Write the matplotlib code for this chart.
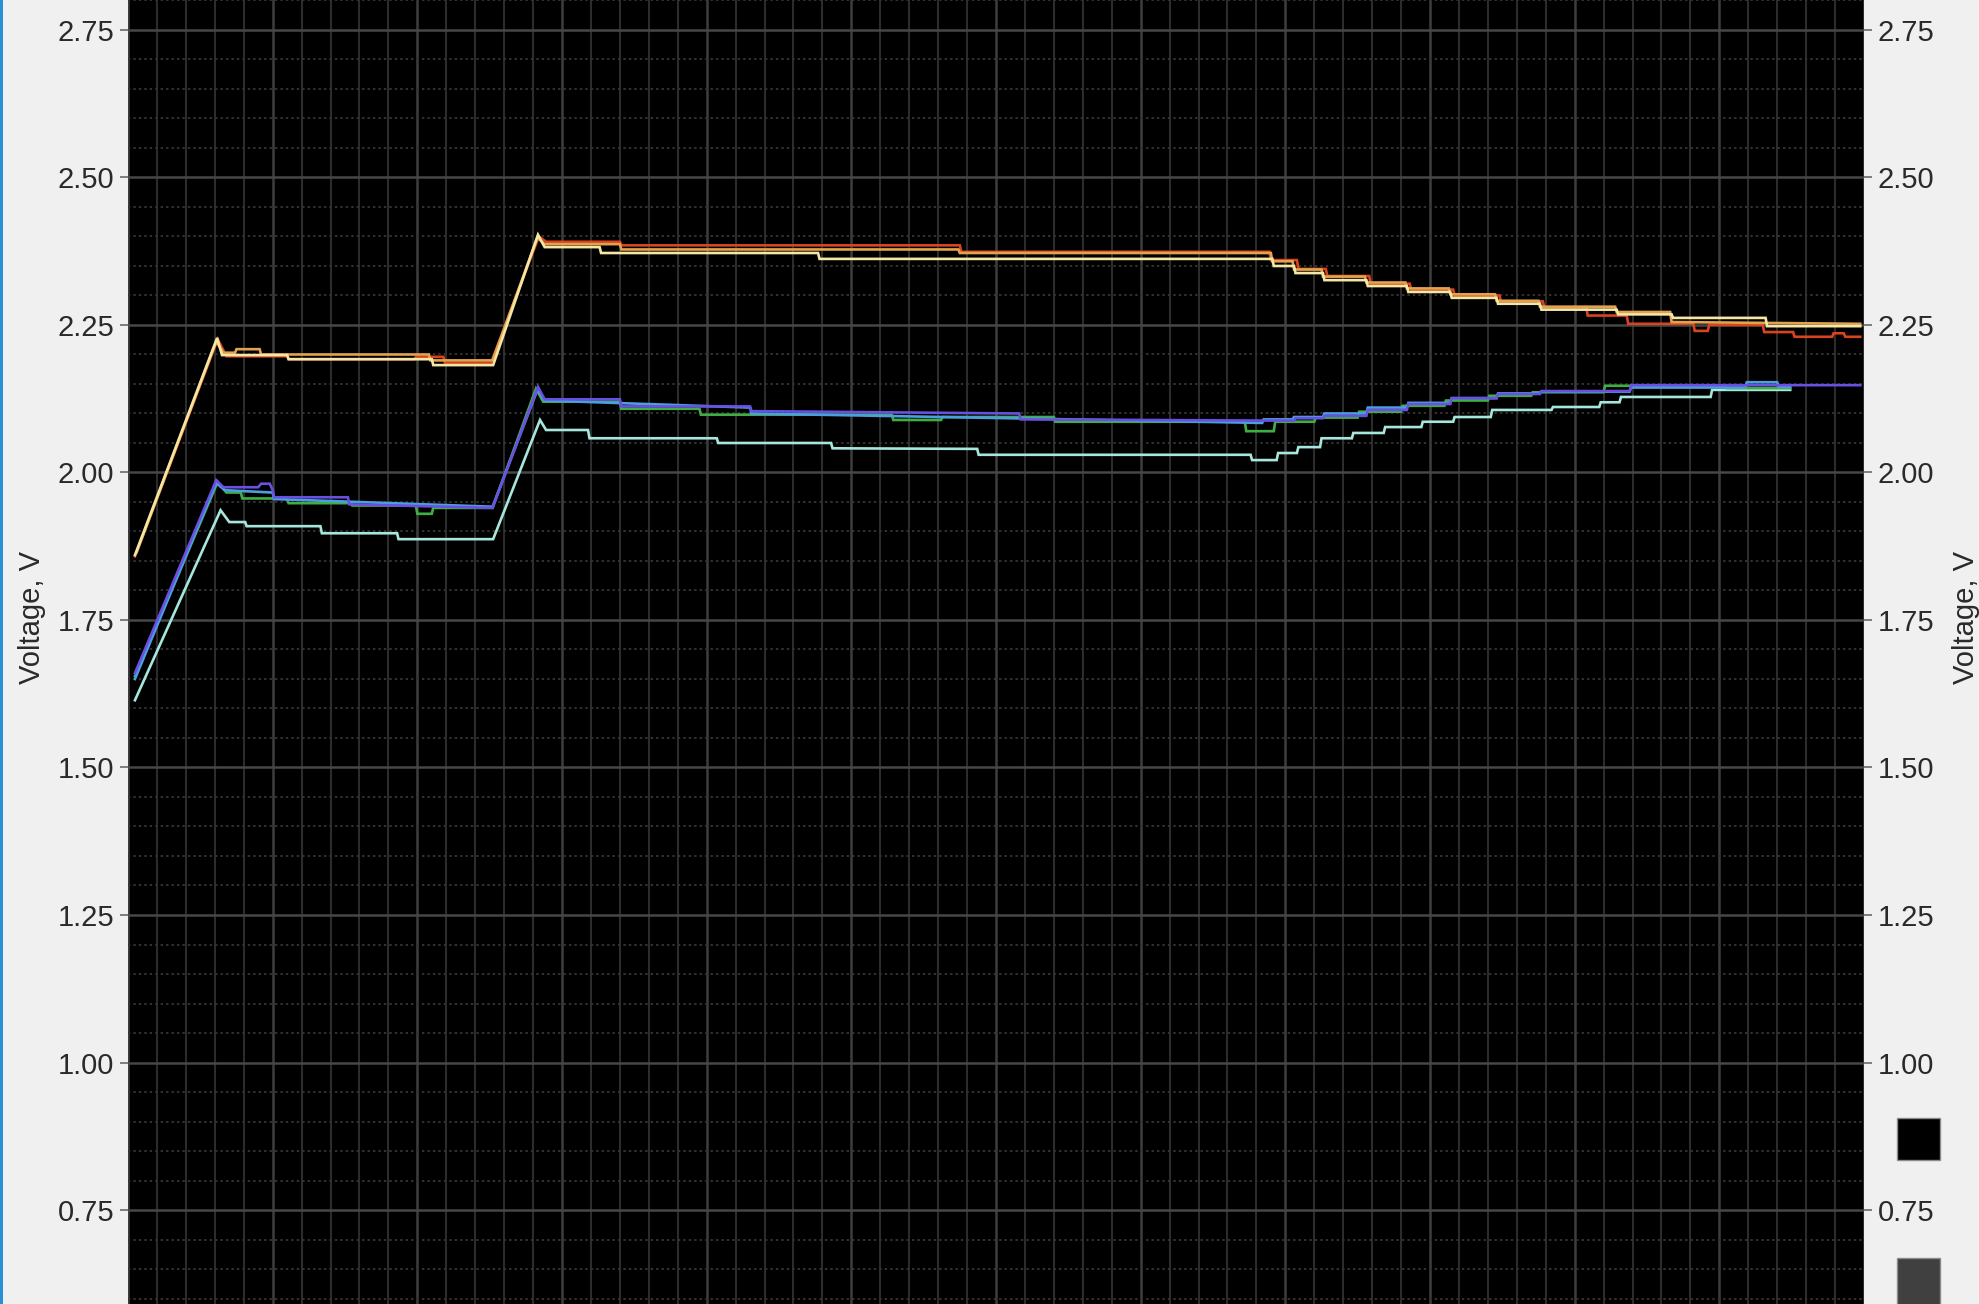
import numpy as np
import matplotlib
matplotlib.use("Agg")
import matplotlib.pyplot as plt
from matplotlib.patches import Rectangle

# ---- cell voltage traces (time in minutes, voltage in V) ----
yellow_t = [0.24, 3.08, 3.25, 5.50, 5.55, 10.50, 10.55, 12.62, 14.17, 14.40, 16.30, 16.35,
            23.85, 23.90, 39.55, 39.60, 40.30, 40.35, 41.30, 41.35, 42.80, 42.85, 44.20,
            44.25, 45.70, 45.75, 47.30, 47.35, 48.80, 48.85, 51.45, 51.50, 53.35, 53.40,
            56.60, 56.65, 59.87]
yellow_v = [1.860, 2.228, 2.199, 2.199, 2.192, 2.192, 2.182, 2.182, 2.403, 2.382, 2.382, 2.372,
            2.372, 2.362, 2.362, 2.350, 2.350, 2.338, 2.338, 2.326, 2.326, 2.316, 2.316,
            2.306, 2.306, 2.296, 2.296, 2.286, 2.286, 2.276, 2.276, 2.268, 2.268, 2.262,
            2.262, 2.248, 2.248]

orange_t = [0.30, 3.05, 3.30, 3.70, 3.75, 4.55, 4.60, 10.40, 10.45, 12.60, 14.15, 14.40,
            17.00, 17.05, 28.70, 28.75, 39.50, 39.55, 40.25, 40.30, 41.25, 41.30, 42.75,
            42.80, 44.15, 44.20, 45.65, 45.70, 47.25, 47.30, 48.75, 48.80, 51.40, 51.45,
            53.30, 53.35, 59.87]
orange_v = [1.865, 2.222, 2.203, 2.203, 2.209, 2.209, 2.200, 2.200, 2.190, 2.190, 2.398, 2.387,
            2.387, 2.378, 2.378, 2.372, 2.372, 2.358, 2.358, 2.344, 2.344, 2.332, 2.332,
            2.322, 2.322, 2.312, 2.312, 2.302, 2.302, 2.291, 2.291, 2.281, 2.281, 2.272,
            2.272, 2.255, 2.252]

red_t = [0.24, 3.10, 3.40, 5.50, 5.55, 9.90, 9.95, 10.90, 10.95, 12.55, 14.20, 14.45, 17.00,
         17.05, 28.75, 28.80, 39.45, 39.50, 40.40, 40.45, 41.40, 41.45, 42.90, 42.95, 44.30,
         44.35, 45.80, 45.85, 47.40, 47.45, 48.90, 48.95, 50.40, 50.45, 51.80, 51.85, 54.10,
         54.15, 54.60, 54.65, 56.50, 56.55, 57.55, 57.60, 58.90, 58.95, 59.30, 59.35, 59.87]
red_v = [1.858, 2.226, 2.197, 2.197, 2.192, 2.192, 2.196, 2.196, 2.186, 2.186, 2.400, 2.391, 2.391,
         2.385, 2.385, 2.374, 2.374, 2.360, 2.360, 2.345, 2.345, 2.333, 2.333, 2.320, 2.320,
         2.310, 2.310, 2.300, 2.300, 2.290, 2.290, 2.280, 2.280, 2.266, 2.266, 2.252, 2.252,
         2.240, 2.240, 2.250, 2.250, 2.238, 2.238, 2.230, 2.230, 2.236, 2.236, 2.230, 2.230]

purple_t = [0.24, 3.05, 3.30, 4.50, 4.60, 4.90, 5.00, 5.05, 7.60, 7.65, 12.60, 14.17, 14.40,
            17.00, 17.05, 21.50, 21.55, 30.80, 30.85, 39.20, 40.30, 40.35, 41.30, 41.35, 42.80,
            42.85, 44.20, 44.25, 45.70, 45.75, 47.30, 47.35, 48.80, 48.85, 51.90, 51.95, 59.87]
purple_v = [1.660, 1.987, 1.975, 1.975, 1.981, 1.981, 1.970, 1.958, 1.958, 1.946, 1.940, 2.145,
            2.124, 2.124, 2.112, 2.112, 2.104, 2.100, 2.090, 2.088, 2.088, 2.092, 2.092, 2.096,
            2.096, 2.106, 2.106, 2.116, 2.116, 2.126, 2.126, 2.133, 2.133, 2.138, 2.138, 2.148,
            2.148]

green_t = [0.24, 3.10, 3.40, 3.90, 3.95, 5.50, 5.55, 7.70, 7.75, 9.95, 10.00, 10.50, 10.55,
           12.60, 14.10, 14.35, 17.00, 17.05, 19.75, 19.80, 26.40, 26.45, 28.10, 28.15, 32.00,
           32.05, 38.60, 38.65, 39.60, 39.65, 41.00, 41.05, 42.50, 42.55, 44.00, 44.05, 45.50,
           45.55, 47.00, 47.05, 48.50, 48.55, 51.00, 51.05, 55.20, 55.25, 57.45]
green_v = [1.655, 1.984, 1.966, 1.966, 1.956, 1.956, 1.948, 1.948, 1.944, 1.944, 1.930, 1.930,
           1.940, 1.940, 2.142, 2.120, 2.120, 2.108, 2.108, 2.098, 2.098, 2.089, 2.089, 2.094,
           2.094, 2.086, 2.086, 2.070, 2.070, 2.086, 2.086, 2.093, 2.093, 2.103, 2.103, 2.113,
           2.113, 2.122, 2.122, 2.130, 2.130, 2.136, 2.136, 2.147, 2.147, 2.143, 2.143]

blue_t = [0.24, 3.05, 3.35, 5.00, 5.05, 12.60, 14.15, 14.40, 21.50, 21.55, 39.20, 39.25, 40.25,
          40.30, 41.30, 41.35, 42.80, 42.85, 44.20, 44.25, 45.70, 45.75, 47.30, 47.35, 48.80,
          48.85, 51.90, 51.95, 55.90, 55.95, 57.00, 57.05, 57.45]
blue_v = [1.650, 1.982, 1.970, 1.966, 1.955, 1.942, 2.140, 2.122, 2.110, 2.100, 2.084, 2.090,
          2.090, 2.094, 2.094, 2.100, 2.100, 2.110, 2.110, 2.118, 2.118, 2.126, 2.126, 2.134,
          2.134, 2.137, 2.137, 2.144, 2.144, 2.153, 2.153, 2.145, 2.145]

cyan_t = [0.24, 3.20, 3.50, 4.05, 4.10, 6.65, 6.70, 9.30, 9.35, 12.62, 14.24, 14.45, 15.90,
          15.95, 20.35, 20.40, 24.30, 24.35, 29.35, 29.40, 38.80, 38.85, 39.70, 39.75, 40.40,
          40.45, 41.20, 41.25, 42.30, 42.35, 43.40, 43.45, 44.70, 44.75, 45.80, 45.85, 47.10,
          47.15, 49.20, 49.25, 50.85, 50.90, 51.55, 51.60, 54.70, 54.75, 57.45]
cyan_v = [1.614, 1.936, 1.916, 1.916, 1.909, 1.909, 1.897, 1.897, 1.887, 1.887, 2.089, 2.072,
          2.072, 2.058, 2.058, 2.050, 2.050, 2.041, 2.040, 2.030, 2.030, 2.021, 2.021, 2.033,
          2.033, 2.043, 2.043, 2.058, 2.058, 2.067, 2.067, 2.077, 2.077, 2.086, 2.086, 2.094,
          2.094, 2.106, 2.106, 2.111, 2.111, 2.119, 2.119, 2.128, 2.128, 2.140, 2.140]

y_ticks = [0.75, 1.00, 1.25, 1.50, 1.75, 2.00, 2.25, 2.50, 2.75]
y_label = "Voltage, V"

# ---- figure ----
W, H = 1979, 1304
fig = plt.figure(figsize=(W / 100, H / 100), dpi=100, facecolor="#f0f0f0")
plt.rcParams["font.family"] = ["Liberation Sans", "DejaVu Sans"]

ax = fig.add_axes([128 / W, 0.0, 1736 / W, 1.0])
ax.set_facecolor("#000000")
ax.set_xlim(0, 60)
ax.set_ylim(0.5907, 2.8008)
for s in ax.spines.values():
    s.set_visible(False)

# grid
ax.set_xticks(np.arange(0, 61, 5))
ax.set_xticks(np.arange(0, 61, 1), minor=True)
ax.set_yticks(y_ticks)
ax.set_yticks(np.arange(0.60, 2.81, 0.05), minor=True)
ax.xaxis.grid(True, which="major", color="#3e3e3e", lw=1.8, zorder=0)
ax.xaxis.grid(True, which="minor", color="#2c2c2c", lw=1.5, zorder=0)
ax.yaxis.grid(True, which="major", color="#474747", lw=1.8, zorder=0)
ax.yaxis.grid(True, which="minor", color="#333333", lw=1.4, ls=(0, (1.2, 1.6)), zorder=0)
ax.set_axisbelow(True)

ax.tick_params(axis="x", which="both", length=0, labelbottom=False)
ax.tick_params(axis="y", which="minor", length=0)
ax.tick_params(axis="y", which="major", left=True, right=True, labelleft=True, labelright=True,
               length=6, width=1.2, color="#6a6a6a", pad=4, labelsize=21, labelcolor="#2a2a2a")
ax.yaxis.set_major_formatter(matplotlib.ticker.FormatStrFormatter("%.2f"))

# traces
lw = 1.9
series = [
    (cyan_t, cyan_v, "#a6e6dc"),
    (green_t, green_v, "#3fae45"),
    (blue_t, blue_v, "#4a9fe0"),
    (purple_t, purple_v, "#6b4fe0"),
    (red_t, red_v, "#d9441e"),
    (orange_t, orange_v, "#e2a24e"),
    (yellow_t, yellow_v, "#f4e6a4"),
]
for t, v, c in series:
    ax.plot(t, v, color=c, lw=lw, solid_joinstyle="miter", zorder=3)

# axis titles
fig.text(32 / W, 1 - 618 / H, y_label, rotation=90, ha="center", va="center",
         fontsize=21, color="#2a2a2a")
fig.text(1966 / W, 1 - 618 / H, y_label, rotation=90, ha="center", va="center",
         fontsize=21, color="#2a2a2a")

# colour swatches on the right
fig.patches.append(Rectangle((1897 / W, 1 - 1160 / H), 43 / W, 42 / H, transform=fig.transFigure,
                             facecolor="#000000", edgecolor="#8a8a8a", lw=1.0))
fig.patches.append(Rectangle((1897 / W, 1 - 1320 / H), 43 / W, 62 / H, transform=fig.transFigure,
                             facecolor="#404040", edgecolor="#8a8a8a", lw=1.0))

# window border strip
fig.patches.append(Rectangle((0, 0), 3 / W, 1, transform=fig.transFigure,
                             facecolor="#2b8fd6", edgecolor="none"))

fig.savefig("out.png", dpi=100, facecolor=fig.get_facecolor())
